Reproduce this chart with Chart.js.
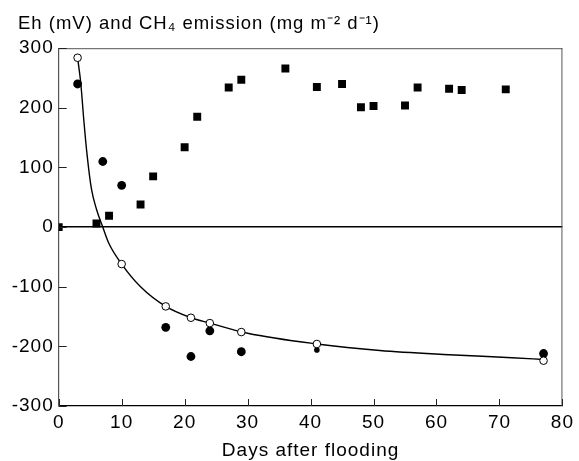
<!DOCTYPE html>
<html>
<head>
<meta charset="utf-8">
<script src="https://cdn.jsdelivr.net/npm/chart.js@4.4.1/dist/chart.umd.min.js"></script>
<style>
  html, body { margin: 0; padding: 0; background: #fff; }
  #wrap { width: 579px; height: 461px; }
</style>
</head>
<body>
<div id="wrap"><canvas id="c" width="579" height="461"></canvas></div>
<script>
// ---- data ----
const ch4Days   = [0, 6, 8, 13, 15, 20, 22, 27, 29, 36, 41, 45, 48, 50, 55, 57, 62, 64, 71];
const ch4Values = [0, 6, 19, 38, 85, 134, 185, 234, 247, 266, 235, 240, 201, 203, 204, 234, 232, 230, 231];

const ehDays    = [3, 7, 10, 17, 21, 24, 29, 41, 77];
const ehValues  = [240, 110, 70, -168, -217, -174, -209, -206, -212];

const fitDays   = [3, 10, 17, 21, 24, 29, 41, 77];
const fitValues = [284, -62, -133, -152, -161, -176, -196, -224];

const curveDays   = [3, 3.5, 4, 4.5, 5.2, 6, 7, 8, 10, 13, 17, 21, 24, 30, 41, 51, 62, 72, 77];
const curveValues = [284, 242, 178, 122, 64, 30, 0, -28, -62, -100, -133, -152, -161, -178, -196, -207, -214, -219, -222];

const xTickValues = [0, 10, 20, 30, 40, 50, 60, 70, 80];
const yTickValues = [300, 200, 100, 0, -100, -200, -300];

const titleText = 'Eh (mV) and CH\u2084 emission (mg m\u207B\u00B2 d\u207B\u00B9)';
const xTitleText = 'Days after flooding';

const pts = (xs, ys) => xs.map((x, i) => ({ x: x, y: ys[i] }));

const FONT = "'Liberation Sans', Arial, Helvetica, sans-serif";

const spacingPlugin = {
  id: 'spacing',
  beforeUpdate(chart) { chart.ctx.letterSpacing = '1px'; },
  afterLayout(chart) {
    if (chart.titleBlock) { chart.titleBlock.left = 18; }
  },
  beforeDraw(chart) { chart.ctx.letterSpacing = '1px'; }
};

const framePlugin = {
  id: 'frame',
  afterDraw(chart) {
    const { ctx, chartArea: a, scales } = chart;
    ctx.save();
    ctx.strokeStyle = '#555';
    ctx.lineWidth = 1;
    ctx.beginPath();
    ctx.moveTo(a.left, a.top + 0.5); ctx.lineTo(a.right, a.top + 0.5);
    ctx.moveTo(a.right - 0.5, a.top); ctx.lineTo(a.right - 0.5, a.bottom);
    ctx.stroke();
    ctx.strokeStyle = '#222';
    ctx.beginPath();
    scales.x.ticks.forEach(t => {
      const px = Math.round(scales.x.getPixelForValue(t.value)) + 0.5;
      ctx.moveTo(px, a.bottom); ctx.lineTo(px, a.bottom - 7);
    });
    scales.y.ticks.forEach(t => {
      const py = Math.round(scales.y.getPixelForValue(t.value)) + 0.5;
      ctx.moveTo(a.left, py); ctx.lineTo(a.left + 8, py);
    });
    ctx.stroke();
    ctx.restore();
  }
};

new Chart(document.getElementById('c'), {
  data: {
    datasets: [
      {
        type: 'scatter',
        label: 'Eh fitted',
        data: pts(fitDays, fitValues),
        pointStyle: 'circle',
        pointRadius: 3.8,
        pointBackgroundColor: '#fff',
        pointBorderColor: '#000',
        pointBorderWidth: 1,
        order: 0
      },
      {
        type: 'line',
        label: 'Eh curve',
        data: pts(curveDays, curveValues),
        borderColor: '#000',
        borderWidth: 1.4,
        pointRadius: 0,
        fill: false,
        cubicInterpolationMode: 'monotone',
        order: 1
      },
      {
        type: 'scatter',
        label: 'Eh measured',
        data: pts(ehDays, ehValues),
        pointStyle: 'circle',
        pointRadius: ctx => (ctx.dataIndex === 7 ? 2.8 : 4.4),
        pointBackgroundColor: '#000',
        pointBorderColor: '#000',
        pointBorderWidth: 0,
        order: 2
      },
      {
        type: 'scatter',
        label: 'CH4 emission',
        data: pts(ch4Days, ch4Values),
        pointStyle: 'rect',
        pointRadius: 5.6,
        pointBackgroundColor: '#000',
        pointBorderColor: '#000',
        pointBorderWidth: 0,
        order: 3
      }
    ]
  },
  options: {
    responsive: false,
    animation: false,
    events: [],
    layout: { padding: { left: 0, right: 14, top: 0, bottom: 0 } },
    plugins: {
      legend: { display: false },
      tooltip: { enabled: false },
      title: {
        display: true,
        text: titleText,
        align: 'start',
        color: '#000',
        font: { family: FONT, size: 18.5, weight: 'normal' },
        padding: { top: 13, bottom: 13 }
      }
    },
    scales: {
      x: {
        type: 'linear',
        min: 0, max: 80,
        afterBuildTicks: s => { s.ticks = xTickValues.map(v => ({ value: v })); },
        afterFit: s => { s.height = 55; },
        grid: { display: false, drawTicks: false },
        border: { display: true, color: '#000', width: 1.2 },
        ticks: { color: '#000', padding: 5, maxRotation: 0, autoSkip: false,
                 font: { family: FONT, size: 19 } },
        title: { display: true, text: xTitleText, color: '#000',
                 font: { family: FONT, size: 19 }, padding: { top: 0, bottom: -1 } }
      },
      y: {
        type: 'linear',
        min: -300, max: 300,
        afterBuildTicks: s => { s.ticks = yTickValues.map(v => ({ value: v })); },
        afterFit: s => { s.width = 58.7; },
        grid: {
          drawTicks: false,
          color: c => (c.tick && c.tick.value === 0 ? '#000' : 'rgba(0,0,0,0)'),
          lineWidth: c => (c.tick && c.tick.value === 0 ? 1.4 : 0)
        },
        border: { display: true, color: '#555', width: 1.2 },
        ticks: { color: '#000', padding: 5, autoSkip: false,
                 font: { family: FONT, size: 19 } }
      }
    }
  },
  plugins: [spacingPlugin, framePlugin]
});
</script>
</body>
</html>
